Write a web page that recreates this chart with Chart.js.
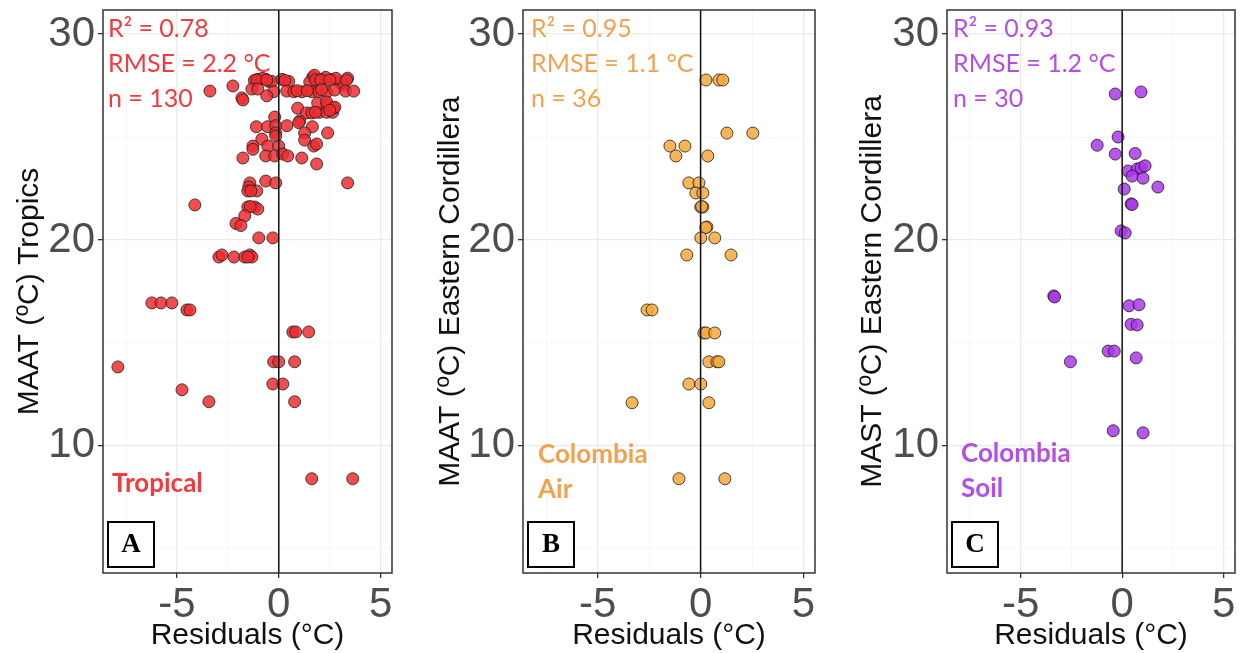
<!DOCTYPE html>
<html><head><meta charset="utf-8">
<script src="https://cdn.jsdelivr.net/npm/chart.js@4.4.1/dist/chart.umd.min.js"></script>
<style>
html,body{margin:0;padding:0;background:#fff;width:1242px;height:653px;overflow:hidden}
canvas{position:absolute;top:0}
</style></head><body>
<canvas id="cA" width="410" height="653" style="left:0px"></canvas>
<canvas id="cB" width="420" height="653" style="left:410px"></canvas>
<canvas id="cC" width="412" height="653" style="left:830px"></canvas>
<script>
// ---- tick definitions ----
const xTickValues = [-7.5, -5, -2.5, 0, 2.5, 5];
const xTickLabels = ['', '-5', '', '0', '', '5'];
const yTickValues = [5, 10, 15, 20, 25, 30];
const yTickLabels = ['', '10', '', '20', '', '30'];
const xRange = [-8.63, 5.56];
const yRange = [3.82, 31.17];

// ---- Panel A: Tropics (residual, MAAT) ----
const tropResidual = [
  -1.03,-0.64,-0.49,-0.34,0.15,0.49,1.67,1.91,1.52,2.16,2.6,2.99,3.38,3.14,3.09,
  -1.2,-0.8,0.3,2.3,2.8,1.75,-1.08,-0.59,1.81,2.06,2.5,3.33,
  -3.38,-2.25,-1.32,-1.03,-0.25,0.39,0.74,1.13,1.62,1.96,2.35,2.75,3.28,3.68,0.9,1.4,2.1,
  -1.81,-1.76,-0.59,
  0.93,1.37,1.62,2.0,2.35,2.65,2.7,2.35,1.91,2.35,2.75,1.8,2.5,
  -0.2,1.03,
  -1.1,-0.55,-0.15,0.4,0.98,1.65,
  -0.15,-0.15,1.27,1.27,2.4,
  -0.83,
  -1.27,-1.27,-0.54,0,1.72,1.86,
  -1.76,-0.64,-0.2,0.2,0.44,1.13,
  1.86,
  -1.42,-1.47,-0.64,-0.15,3.38,
  -1.52,-1.08,-1.37,
  -4.12,
  -1.52,-1.18,-1.03,-1.4,
  -1.67,
  -2.1,-1.86,
  -0.98,-0.29,
  -2.94,-2.79,-2.2,-1.67,-1.42,-1.32,-1.52,
  -6.23,-5.78,-5.25,
  -4.51,-4.36,
  0.69,0.83,1.47,
  -0.25,0,0.78,
  -7.9,
  -0.29,0.2,
  -4.75,
  -3.43,0.78,
  1.62,3.63
];
const tropMAAT = [
  27.8,27.8,27.7,27.7,27.8,27.7,27.9,27.77,27.67,27.8,27.8,27.67,27.86,27.52,27.62,
  27.75,27.85,27.75,27.9,27.85,28.0,27.77,27.77,27.77,27.77,27.77,27.77,
  27.23,27.48,27.33,27.33,27.2,27.23,27.2,27.2,27.2,27.2,27.18,27.28,27.23,27.23,27.25,27.25,27.3,
  26.9,26.8,27.0,
  26.4,26.17,26.17,26.2,26.2,26.2,26.4,26.55,26.65,26.7,26.45,26.2,26.3,
  25.97,25.78,
  25.5,25.5,25.55,25.55,25.7,25.5,
  25.2,25.05,25.2,24.85,25.2,
  24.9,
  24.56,24.4,24.56,24.56,24.56,24.66,
  23.98,24.08,24.08,24.17,24.08,23.98,
  23.69,
  22.77,22.57,22.86,22.77,22.77,
  22.38,22.38,22.38,
  21.7,
  21.6,21.6,21.5,21.62,
  21.17,
  20.8,20.7,
  20.1,20.1,
  19.17,19.27,19.17,19.17,19.27,19.17,19.17,
  16.94,16.94,16.94,
  16.6,16.6,
  15.53,15.53,15.53,
  14.08,14.08,14.08,
  13.83,
  13.0,13.0,
  12.72,
  12.14,12.14,
  8.4,8.4
];

// ---- Panel B: Colombia Air (residual, MAAT) ----
const airResidual = [
  0.26,0.89,1.08,1.28,2.54,-1.49,-0.76,-1.2,0.35,-0.57,-0.08,-0.23,0.11,
  0.01,0.11,0.05,0.31,0.25,0.01,0.69,-0.67,1.48,-2.6,-2.36,
  0.16,0.26,0.69,0.4,0.79,0.89,-0.57,0.01,-3.33,0.4,-1.05,1.18
];
const airMAAT = [
  27.77,27.77,27.77,25.19,25.19,24.56,24.56,24.08,24.08,22.77,22.77,22.28,22.28,
  21.6,21.6,21.62,20.63,20.6,20.1,20.1,19.27,19.27,16.6,16.6,
  15.48,15.48,15.48,14.08,14.08,14.08,13.0,13.0,12.09,12.09,8.4,8.4
];

// ---- Panel C: Colombia Soil (residual, MAST) ----
const soilResidual = [
  -0.34,0.93,-0.2,-1.23,-0.34,0.64,0.29,0.74,0.93,1.13,0.49,1.03,1.76,0.1,
  0.44,0.49,-0.05,0.15,-3.37,-3.33,0.34,0.83,
  0.44,0.74,-0.69,-0.39,-2.55,0.69,-0.44,1.03
];
const soilMAST = [
  27.09,27.19,25.0,24.6,24.17,24.2,23.35,23.45,23.5,23.6,23.1,23.0,22.57,22.47,
  21.75,21.72,20.44,20.34,17.28,17.23,16.8,16.85,
  15.9,15.87,14.6,14.6,14.08,14.27,10.73,10.63
];

const panels = [
  {id:'cA', x:tropResidual, y:tropMAAT, yWidth:103, padRight:18, titlePad:12,
   yTitle:'MAAT (ºC) Tropics', fill:'rgba(238,45,48,0.85)', textColor:'#F03C40',
   stats:['R² = 0.78','RMSE = 2.2 °C','n = 130'], statsOff:5,
   group:['Tropical'], groupOff:9, groupBase:[-81], letter:'A'},
  {id:'cB', x:airResidual, y:airMAAT, yWidth:113, padRight:15, titlePad:23,
   yTitle:'MAAT (ºC) Eastern Cordillera', fill:'rgba(247,168,58,0.85)', textColor:'#F2A24E',
   stats:['R² = 0.95','RMSE = 1.1 °C','n = 36'], statsOff:8,
   group:['Colombia','Air'], groupOff:15, groupBase:[-110,-75], letter:'B'},
  {id:'cC', x:soilResidual, y:soilMAST, yWidth:117, padRight:4, titlePad:25,
   yTitle:'MAST (ºC) Eastern Cordillera', fill:'rgba(170,55,235,0.85)', textColor:'#B44FE3',
   stats:['R² = 0.93','RMSE = 1.2 °C','n = 30'], statsOff:6,
   group:['Colombia','Soil'], groupOff:14, groupBase:[-111,-76], letter:'C'}
];

const majorX = v => Math.abs(v % 5) < 1e-9;
const majorY = v => Math.abs(v % 10) < 1e-9;

function makePanel(p) {
  const pts = p.x.map((v, i) => ({x: v, y: p.y[i]}));
  const annot = {
    id: 'annot',
    afterDraw(chart) {
      const {ctx, chartArea: a} = chart;
      ctx.save();
      ctx.strokeStyle = '#333';
      ctx.lineWidth = 1.5;
      ctx.strokeRect(a.left, a.top, a.right - a.left, a.bottom - a.top);
      ctx.fillStyle = p.textColor;
      ctx.textBaseline = 'alphabetic';
      ctx.textAlign = 'left';
      ctx.font = '25px Lato';
      p.stats.forEach((s, i) => ctx.fillText(s, a.left + p.statsOff, a.top + 27 + i * 35));
      ctx.font = 'bold 26px Lato';
      p.group.forEach((s, i) => ctx.fillText(s, a.left + p.groupOff, a.bottom + p.groupBase[i]));
      // panel letter box
      ctx.fillStyle = '#fff';
      ctx.fillRect(a.left + 5, a.bottom - 51, 46, 45);
      ctx.strokeStyle = '#000';
      ctx.lineWidth = 2;
      ctx.strokeRect(a.left + 5, a.bottom - 51, 46, 45);
      ctx.fillStyle = '#000';
      ctx.font = 'bold 27px "Liberation Serif"';
      ctx.textAlign = 'center';
      ctx.textBaseline = 'middle';
      ctx.fillText(p.letter, a.left + 28, a.bottom - 28);
      ctx.restore();
    }
  };
  return new Chart(document.getElementById(p.id), {
    type: 'scatter',
    data: {
      datasets: [
        {type: 'line', data: [{x: 0, y: yRange[0]}, {x: 0, y: yRange[1]}],
         borderColor: '#111', borderWidth: 1.5, pointRadius: 0, order: 0},
        {type: 'scatter', data: pts, backgroundColor: p.fill,
         borderColor: 'rgba(30,30,30,0.8)', borderWidth: 1, pointRadius: 6, order: 1}
      ]
    },
    options: {
      responsive: false, animation: false,
      layout: {padding: {top: 10, right: p.padRight, left: 0, bottom: 0}},
      plugins: {legend: {display: false}, tooltip: {enabled: false}},
      scales: {
        x: {
          type: 'linear', min: xRange[0], max: xRange[1],
          afterBuildTicks: s => { s.ticks = xTickValues.map(v => ({value: v})); },
          afterFit: s => { s.height = 80; s.paddingLeft = 0; s.paddingRight = 0; },
          border: {display: false},
          grid: {
            color: c => majorX(c.tick.value) ? '#ebebeb' : '#f5f5f5',
            lineWidth: c => majorX(c.tick.value) ? 1.3 : 0.8,
            tickColor: c => majorX(c.tick.value) ? '#333' : 'rgba(0,0,0,0)',
            tickLength: 5, drawTicks: true
          },
          ticks: {
            autoSkip: false, maxRotation: 0, padding: 2, color: '#4d4d4d',
            font: {family: '"Liberation Sans", Arial', size: 42},
            callback: v => xTickLabels[xTickValues.indexOf(v)]
          },
          title: {display: true, text: 'Residuals (°C)', color: '#111',
                  font: {family: '"Liberation Sans", Arial', size: 30}, padding: {top: 0, bottom: -1}}
        },
        y: {
          type: 'linear', min: yRange[0], max: yRange[1],
          afterBuildTicks: s => { s.ticks = yTickValues.map(v => ({value: v})); },
          afterFit: s => { s.width = p.yWidth; s.paddingTop = 0; s.paddingBottom = 0; },
          border: {display: false},
          grid: {
            color: c => majorY(c.tick.value) ? '#ebebeb' : '#f5f5f5',
            lineWidth: c => majorY(c.tick.value) ? 1.3 : 0.8,
            tickColor: c => majorY(c.tick.value) ? '#333' : 'rgba(0,0,0,0)',
            tickLength: 5, drawTicks: true
          },
          ticks: {
            autoSkip: false, padding: 3, color: '#4d4d4d',
            font: {family: '"Liberation Sans", Arial', size: 42},
            callback: v => yTickLabels[yTickValues.indexOf(v)]
          },
          title: {display: true, text: p.yTitle, color: '#111',
                  font: {family: '"Liberation Sans", Arial', size: 30}, padding: {top: p.titlePad, bottom: 0}}
        }
      }
    },
    plugins: [annot]
  });
}
panels.forEach(makePanel);
</script>
</body></html>
